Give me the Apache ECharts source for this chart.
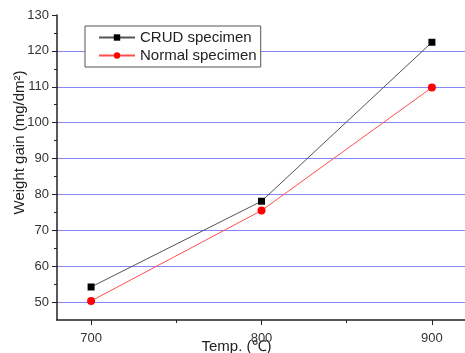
<!DOCTYPE html>
<html>
<head>
<meta charset="utf-8">
<script src="https://cdn.jsdelivr.net/npm/echarts@6/dist/echarts.min.js"></script>
<style>
  html, body { margin: 0; padding: 0; background: #fff; }
  #chart { width: 465px; height: 353px; }
</style>
</head>
<body>
<div id="chart"></div>
<script>
const temps = [700, 800, 900]
const crudGain = [54.2, 78.1, 122.4]
const normalGain = [50.3, 75.5, 109.8]
const xMajorTicks = [700, 800, 900]
const xMinorTicks = [750, 850]
const yMajorTicks = [50, 60, 70, 80, 90, 100, 110, 120, 130]
const yMinorTicks = [55, 65, 75, 85, 95, 105, 115, 125]

const font = "'Liberation Sans', Arial, sans-serif"
const axisColor = "#222"
const gridBlue = "#8585f7"

const chart = echarts.init(document.getElementById("chart"), null, { renderer: "canvas" })

const pairs = (ys) => temps.map((t, i) => [t, ys[i]])

chart.setOption({
  animation: false,
  backgroundColor: "#fff",
  grid: { left: 57, top: 15, width: 409, height: 305, outerBoundsMode: "none", containLabel: false },
  legend: {
    orient: "vertical",
    left: 85,
    top: 26,
    padding: [4, 4, 4, 13],
    itemGap: 3,
    itemWidth: 36,
    itemHeight: 8,
    backgroundColor: "#fff",
    borderColor: "#555",
    borderWidth: 1,
    borderRadius: 0,
    textStyle: { fontFamily: font, fontSize: 15, color: "#222" },
    data: ["CRUD specimen", "Normal specimen"],
  },
  xAxis: [
    {
      type: "value",
      min: 680,
      max: 920,
      name: "Temp. (\u2103)",
      nameLocation: "middle",
      nameGap: 19,
      nameMoveOverlap: false,
      nameTextStyle: { fontFamily: font, fontSize: 15, color: "#222", padding: [0, 50, 0, 0] },
      axisLine: { onZero: false, lineStyle: { color: axisColor, width: 1.5 } },
      axisTick: { customValues: xMajorTicks, length: 5, lineStyle: { color: axisColor } },
      axisLabel: { customValues: xMajorTicks, fontFamily: font, fontSize: 13, color: "#333", margin: 12 },
      splitLine: { show: false },
    },
    {
      type: "value",
      min: 680,
      max: 920,
      position: "bottom",
      axisLine: { show: false },
      axisTick: { customValues: xMinorTicks, length: 3, lineStyle: { color: axisColor } },
      axisLabel: { show: false },
      splitLine: { show: false },
    },
  ],
  yAxis: [
    {
      type: "value",
      min: 45,
      max: 130,
      name: "Weight gain (mg/dm\u00b2)",
      nameLocation: "middle",
      nameRotate: 90,
      nameGap: 30,
      nameMoveOverlap: false,
      nameTextStyle: { fontFamily: font, fontSize: 15, color: "#222", padding: [0, 0, 0, 50] },
      axisLine: { show: true, onZero: false, lineStyle: { color: axisColor, width: 1.5 } },
      axisTick: { show: true, customValues: yMajorTicks, length: 5, lineStyle: { color: axisColor } },
      axisLabel: { customValues: yMajorTicks, fontFamily: font, fontSize: 13, color: "#333", margin: 8 },
      splitLine: { show: true, showMaxLine: false, lineStyle: { color: gridBlue, width: 1.2 } },
    },
    {
      type: "value",
      min: 45,
      max: 130,
      position: "left",
      axisLine: { show: false },
      axisTick: { show: true, customValues: yMinorTicks, length: 3, lineStyle: { color: axisColor } },
      axisLabel: { show: false },
      splitLine: { show: false },
    },
  ],
  series: [
    {
      name: "CRUD specimen",
      type: "line",
      data: pairs(crudGain),
      symbol: "rect",
      symbolSize: 7,
      itemStyle: { color: "#000" },
      lineStyle: { color: "#555", width: 1 },
      z: 3,
    },
    {
      name: "Normal specimen",
      type: "line",
      data: pairs(normalGain),
      symbol: "circle",
      symbolSize: 8,
      itemStyle: { color: "#ff0000" },
      lineStyle: { color: "#ff5050", width: 1 },
      z: 3,
    },
  ],
})
</script>
</body>
</html>
